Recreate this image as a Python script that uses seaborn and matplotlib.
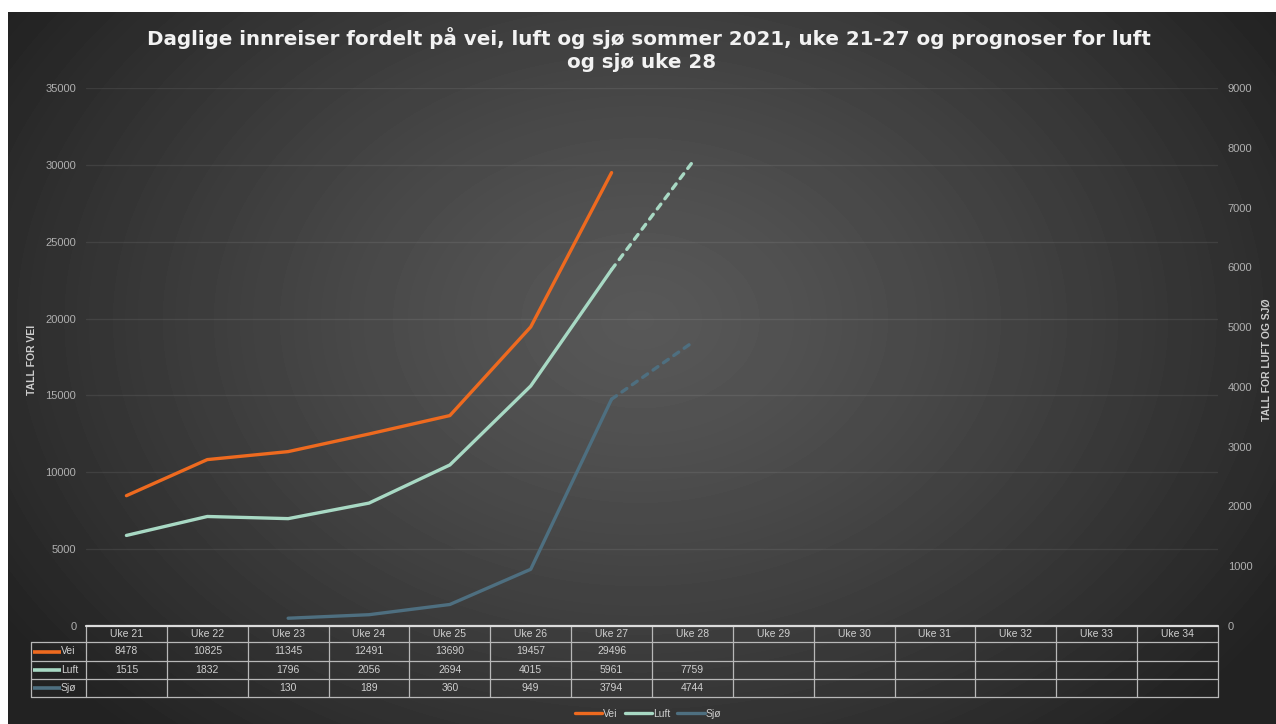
import numpy as np
import pandas as pd
import matplotlib
matplotlib.use("Agg")
import matplotlib.pyplot as plt
import seaborn as sns
from matplotlib.lines import Line2D
from matplotlib.transforms import blended_transform_factory

# ---- data -------------------------------------------------------------
weeks = ["Uke 21", "Uke 22", "Uke 23", "Uke 24", "Uke 25", "Uke 26", "Uke 27",
         "Uke 28", "Uke 29", "Uke 30", "Uke 31", "Uke 32", "Uke 33", "Uke 34"]
vei = [8478, 10825, 11345, 12491, 13690, 19457, 29496]
luft = [1515, 1832, 1796, 2056, 2694, 4015, 5961, 7759]
sjo = [np.nan, np.nan, 130, 189, 360, 949, 3794, 4744]
n_observed = 7          # Uke 21-27 observed, Uke 28 is a forecast

series_names = ["Vei", "Luft", "Sjø"]
colors = {"Vei": "#EE6A1F", "Luft": "#A8D9C4", "Sjø": "#4E6F80"}

title_lines = ["Daglige innreiser fordelt på vei, luft og sjø sommer 2021, uke 21-27 og prognoser for luft",
               "og sjø uke 28"]
left_label = "TALL FOR VEI"
right_label = "TALL FOR LUFT OG SJØ"


def padded(values):
    return list(values) + [np.nan] * (len(weeks) - len(values))


df = pd.DataFrame({"pos": np.arange(len(weeks)), "uke": weeks,
                   "Vei": padded(vei), "Luft": padded(luft), "Sjø": padded(sjo)})
observed = df.iloc[:n_observed]
forecast = df.iloc[n_observed - 1:n_observed + 1]

# ---- figure -----------------------------------------------------------
sns.set_theme(style="dark")
plt.rcParams["font.family"] = ["Liberation Sans", "DejaVu Sans"]

W, H = 1276, 724
fig = plt.figure(figsize=(W / 100, H / 100), dpi=100)
fig.patch.set_facecolor("white")


def fx(px):
    return px / W


def fy(py):
    return 1 - py / H


# dark panel with a soft radial light in the middle
bg = fig.add_axes([fx(8), 0, 1 - fx(8), 1 - 12 / H])
bg.set_axis_off()
yy, xx = np.mgrid[12:724, 8:1276]
r = np.sqrt(((xx - 640) / 760.0) ** 2 + ((yy - 320) / 560.0) ** 2)
shade = 88 - 54 * np.clip(r, 0, 1) ** 1.25
bg.imshow(shade, cmap="gray", vmin=0, vmax=255, aspect="auto", interpolation="bilinear")

ax = fig.add_axes([fx(86), fy(626), fx(1218) - fx(86), fy(88) - fy(626)])
ax.set_facecolor("none")
ax2 = ax.twinx()
ax2.set_facecolor("none")

lw = 2.4
sns.lineplot(data=observed, x="pos", y="Vei", ax=ax, color=colors["Vei"], lw=lw,
             solid_capstyle="round", solid_joinstyle="round")
for name in ["Luft", "Sjø"]:
    sns.lineplot(data=observed, x="pos", y=name, ax=ax2, color=colors[name], lw=lw,
                 solid_capstyle="round", solid_joinstyle="round")
    sns.lineplot(data=forecast, x="pos", y=name, ax=ax2, color=colors[name], lw=lw,
                 linestyle=(0, (1.8, 2.0)), dash_capstyle="round")

ax.set_xlim(-0.5, len(weeks) - 0.5)
ax.set_ylim(0, 35000)
ax2.set_ylim(0, 9000)
ax.set_yticks(range(0, 35001, 5000))
ax2.set_yticks(range(0, 9001, 1000))
ax.set_xticks([])
for a in (ax, ax2):
    a.set_xlabel("")
    a.set_ylabel("")
    for s in a.spines.values():
        s.set_visible(False)
ax.tick_params(axis="y", length=0, pad=7, labelsize=8, labelcolor="#b0b0b0")
ax2.tick_params(axis="y", length=0, pad=7, labelsize=8, labelcolor="#b0b0b0")
ax.yaxis.grid(True, color="white", alpha=0.08, lw=0.9)
ax2.grid(False)

# axis titles and chart title
fig.text(fx(32), fy(360), left_label, rotation=90, ha="center", va="center",
         fontsize=7.5, fontweight="bold", color="#cdcdcd")
fig.text(fx(1266), fy(360), right_label, rotation=90, ha="center", va="center",
         fontsize=7.5, fontweight="bold", color="#cdcdcd")
title_kw = dict(ha="center", va="center", fontsize=14.3, fontweight="bold",
                color="#f2f2f2", family=["DejaVu Sans"])
fig.text(fx(649), fy(38), title_lines[0], **title_kw)
fig.text(fx(642), fy(63), title_lines[1], **title_kw)

# ---- data table under the plot ------------------------------------------
tr = blended_transform_factory(ax.transData, fig.transFigure)
grid_color = "#b8b8b8"
row_tops = [626, 642, 661, 679, 697]
row_centers = [(row_tops[i] + row_tops[i + 1]) / 2 for i in range(4)]

fig.add_artist(Line2D([fx(86), fx(1218)], [fy(626)] * 2, color="#dcdcdc", lw=1.6))
fig.add_artist(Line2D([fx(86), fx(1218)], [fy(642)] * 2, color=grid_color, lw=0.9))
fig.add_artist(Line2D([fx(31), fx(86)], [fy(642)] * 2, color=grid_color, lw=0.9))
for yv in row_tops[2:]:
    fig.add_artist(Line2D([fx(31), fx(1218)], [fy(yv)] * 2, color=grid_color, lw=0.9))
fig.add_artist(Line2D([fx(31), fx(31)], [fy(642), fy(697)], color=grid_color, lw=0.9))
for edge in np.arange(len(weeks) + 1) - 0.5:
    ax.plot([edge, edge], [fy(626), fy(697)], transform=tr, color=grid_color, lw=0.9, clip_on=False)

cell_kw = dict(ha="center", va="center", fontsize=7.5, color="#d0d0d0", transform=tr)
for p, wk in zip(df["pos"], df["uke"]):
    ax.text(p, fy(row_centers[0]), wk, **cell_kw)
for i, name in enumerate(series_names):
    yc = fy(row_centers[i + 1])
    for p, v in zip(df["pos"], df[name]):
        if not np.isnan(v):
            ax.text(p, yc, f"{int(v)}", **cell_kw)
    fig.add_artist(Line2D([fx(33), fx(61)], [yc, yc], color=colors[name], lw=2.6,
                          solid_capstyle="butt"))
    fig.text(fx(61), yc, name, ha="left", va="center", fontsize=7.5, color="#d0d0d0")

# legend at the bottom
handles = [Line2D([], [], color=colors[n], lw=2.4) for n in series_names]
fig.legend(handles, series_names, loc="center", bbox_to_anchor=(fx(648), fy(714)),
           ncol=3, frameon=False, handlelength=2.6, handletextpad=0.1,
           columnspacing=0.7, fontsize=7.5, labelcolor="#cfcfcf")

fig.savefig("out.png", dpi=100, facecolor=fig.get_facecolor())
